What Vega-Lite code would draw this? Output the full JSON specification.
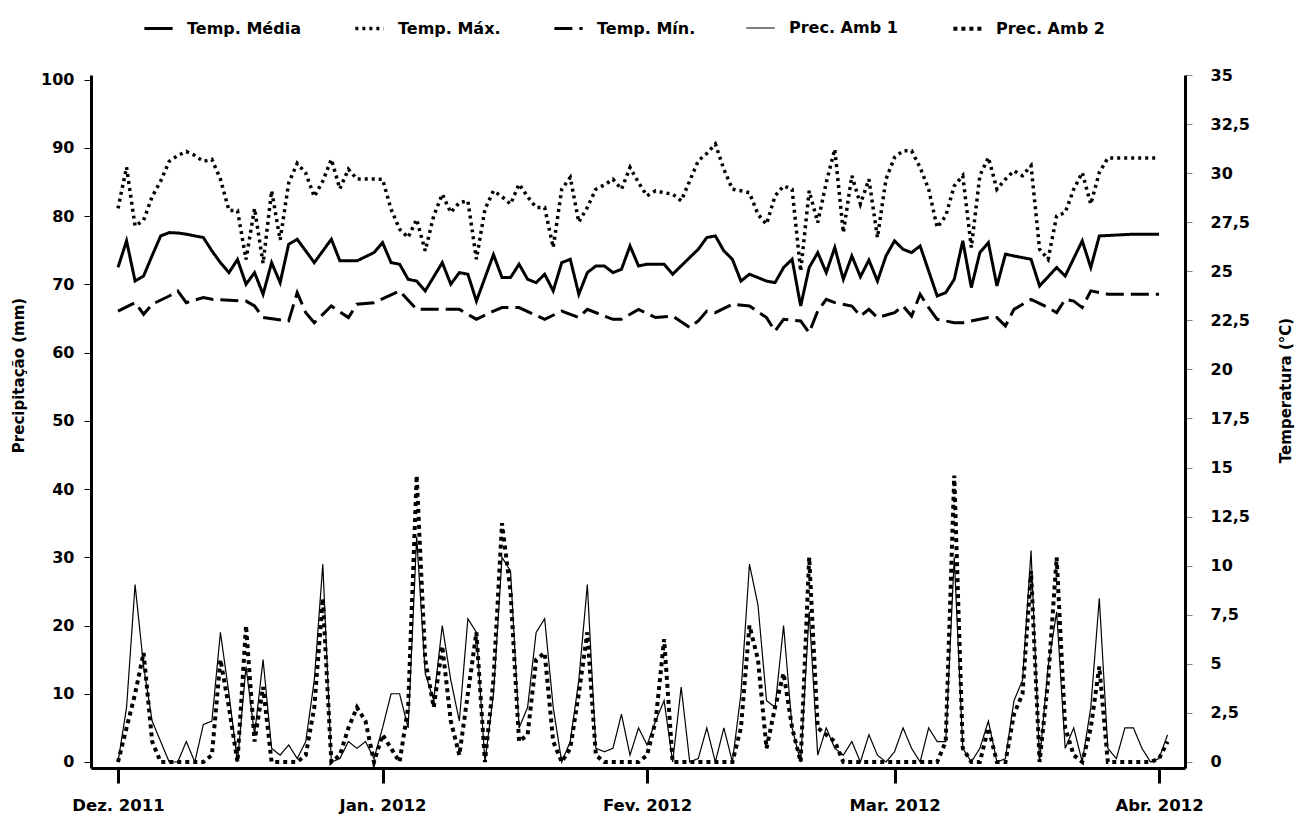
{
"$schema": "https://vega.github.io/schema/vega-lite/v6.json",
"width": 1094, "height": 693,
"autosize": "none",
"padding": {"left": 91, "top": 75, "right": 114, "bottom": 54},
"background": "white",
"config": {"view": {"stroke": null}, "font": "DejaVu Sans",
 "axis": {"labelFont": "DejaVu Sans", "labelFontWeight": "bold", "titleFont": "DejaVu Sans", "titleFontWeight": "bold", "grid": false, "domainColor": "black", "tickColor": "black", "labelColor": "black", "titleColor": "black"}},
"data": {"values": [
{"t":"2011-12-01","a1":0,"a2":0,"md":25.2,"mx":28.2,"mn":22.97},
{"t":"2011-12-02","a1":8,"a2":5,"md":26.55,"mx":30.3,"mn":null},
{"t":"2011-12-03","a1":26,"a2":10,"md":24.5,"mx":27.3,"mn":23.4},
{"t":"2011-12-04","a1":14,"a2":16,"md":24.76,"mx":27.6,"mn":22.81},
{"t":"2011-12-05","a1":6,"a2":3,"md":25.8,"mx":28.8,"mn":23.32},
{"t":"2011-12-06","a1":3,"a2":0,"md":26.8,"mx":29.6,"mn":null},
{"t":"2011-12-07","a1":0,"a2":0,"md":26.97,"mx":30.6,"mn":23.74},
{"t":"2011-12-08","a1":0,"a2":0,"md":26.95,"mx":30.9,"mn":24.0},
{"t":"2011-12-09","a1":3,"a2":0,"md":26.89,"mx":31.1,"mn":23.4},
{"t":"2011-12-10","a1":0,"a2":0,"md":26.8,"mx":30.9,"mn":null},
{"t":"2011-12-11","a1":5.5,"a2":0,"md":26.72,"mx":30.6,"mn":23.66},
{"t":"2011-12-12","a1":6,"a2":1,"md":26.04,"mx":30.7,"mn":23.57},
{"t":"2011-12-13","a1":19,"a2":15,"md":25.44,"mx":29.7,"mn":null},
{"t":"2011-12-14","a1":10,"a2":8,"md":24.93,"mx":28.1,"mn":null},
{"t":"2011-12-15","a1":0,"a2":0,"md":25.6,"mx":28.1,"mn":null},
{"t":"2011-12-16","a1":14,"a2":20,"md":24.34,"mx":25.6,"mn":23.48},
{"t":"2011-12-17","a1":4,"a2":3,"md":24.93,"mx":28.2,"mn":23.23},
{"t":"2011-12-18","a1":15,"a2":11,"md":23.83,"mx":25.4,"mn":22.64},
{"t":"2011-12-19","a1":2,"a2":0,"md":25.44,"mx":29.1,"mn":null},
{"t":"2011-12-20","a1":1,"a2":0,"md":24.42,"mx":26.6,"mn":null},
{"t":"2011-12-21","a1":2.5,"a2":0,"md":26.38,"mx":29.5,"mn":22.47},
{"t":"2011-12-22","a1":0.5,"a2":0,"md":26.63,"mx":30.5,"mn":23.91},
{"t":"2011-12-23","a1":3,"a2":1,"md":null,"mx":30.0,"mn":22.89},
{"t":"2011-12-24","a1":12,"a2":8,"md":25.44,"mx":28.8,"mn":22.38},
{"t":"2011-12-25","a1":29,"a2":24,"md":null,"mx":29.6,"mn":null},
{"t":"2011-12-26","a1":0,"a2":0,"md":26.63,"mx":30.7,"mn":23.23},
{"t":"2011-12-27","a1":0.5,"a2":1,"md":25.53,"mx":29.2,"mn":null},
{"t":"2011-12-28","a1":3,"a2":5,"md":null,"mx":30.2,"mn":22.64},
{"t":"2011-12-29","a1":2,"a2":8,"md":25.53,"mx":29.7,"mn":23.32},
{"t":"2011-12-30","a1":3,"a2":6,"md":null,"mx":29.7,"mn":null},
{"t":"2011-12-31","a1":0.5,"a2":0,"md":25.95,"mx":29.7,"mn":23.4},
{"t":"2012-01-01","a1":5,"a2":4,"md":26.46,"mx":29.69,"mn":null},
{"t":"2012-01-02","a1":10,"a2":2,"md":25.44,"mx":28.16,"mn":null},
{"t":"2012-01-03","a1":10,"a2":0,"md":25.36,"mx":27.14,"mn":24.0},
{"t":"2012-01-04","a1":5,"a2":8,"md":24.59,"mx":26.72,"mn":null},
{"t":"2012-01-05","a1":33,"a2":42,"md":24.5,"mx":27.65,"mn":23.06},
{"t":"2012-01-06","a1":13,"a2":15,"md":24.0,"mx":26.04,"mn":null},
{"t":"2012-01-07","a1":9,"a2":8,"md":null,"mx":27.82,"mn":23.06},
{"t":"2012-01-08","a1":20,"a2":17,"md":25.44,"mx":28.93,"mn":null},
{"t":"2012-01-09","a1":12,"a2":6,"md":24.34,"mx":27.99,"mn":null},
{"t":"2012-01-10","a1":6,"a2":1,"md":24.93,"mx":28.5,"mn":23.06},
{"t":"2012-01-11","a1":21,"a2":10,"md":24.85,"mx":28.59,"mn":null},
{"t":"2012-01-12","a1":19,"a2":19,"md":23.48,"mx":25.61,"mn":22.55},
{"t":"2012-01-13","a1":0,"a2":0,"md":null,"mx":28.16,"mn":null},
{"t":"2012-01-14","a1":10,"a2":12,"md":25.85,"mx":29.1,"mn":22.97},
{"t":"2012-01-15","a1":30,"a2":35,"md":24.68,"mx":28.8,"mn":23.15},
{"t":"2012-01-16","a1":28,"a2":25,"md":24.68,"mx":28.42,"mn":null},
{"t":"2012-01-17","a1":5,"a2":3,"md":25.36,"mx":29.44,"mn":23.15},
{"t":"2012-01-18","a1":8,"a2":4,"md":24.59,"mx":28.8,"mn":null},
{"t":"2012-01-19","a1":19,"a2":15,"md":24.42,"mx":28.25,"mn":null},
{"t":"2012-01-20","a1":21,"a2":16,"md":24.85,"mx":28.25,"mn":22.55},
{"t":"2012-01-21","a1":8,"a2":3,"md":24.0,"mx":26.21,"mn":null},
{"t":"2012-01-22","a1":0,"a2":0,"md":25.44,"mx":29.18,"mn":22.97},
{"t":"2012-01-23","a1":3,"a2":2,"md":25.61,"mx":29.78,"mn":null},
{"t":"2012-01-24","a1":12,"a2":10,"md":23.83,"mx":27.5,"mn":22.64},
{"t":"2012-01-25","a1":26,"a2":19,"md":24.93,"mx":28.25,"mn":23.06},
{"t":"2012-01-26","a1":2,"a2":1,"md":25.27,"mx":29.18,"mn":null},
{"t":"2012-01-27","a1":1.5,"a2":0,"md":25.27,"mx":29.4,"mn":null},
{"t":"2012-01-28","a1":2,"a2":0,"md":24.93,"mx":29.69,"mn":22.55},
{"t":"2012-01-29","a1":7,"a2":0,"md":25.1,"mx":29.18,"mn":22.55},
{"t":"2012-01-30","a1":1,"a2":0,"md":26.29,"mx":30.29,"mn":null},
{"t":"2012-01-31","a1":5,"a2":0,"md":25.27,"mx":29.52,"mn":23.06},
{"t":"2012-02-01","a1":2.5,"a2":1,"md":25.36,"mx":28.84,"mn":null},
{"t":"2012-02-02","a1":6,"a2":6,"md":null,"mx":29.1,"mn":22.64},
{"t":"2012-02-03","a1":9,"a2":18,"md":25.36,"mx":29.0,"mn":null},
{"t":"2012-02-04","a1":0,"a2":0,"md":24.85,"mx":28.93,"mn":22.72},
{"t":"2012-02-05","a1":11,"a2":0,"md":null,"mx":28.59,"mn":null},
{"t":"2012-02-06","a1":0,"a2":0,"md":25.7,"mx":29.61,"mn":22.13},
{"t":"2012-02-07","a1":0.5,"a2":0,"md":26.12,"mx":30.63,"mn":22.47},
{"t":"2012-02-08","a1":5,"a2":0,"md":26.72,"mx":31.0,"mn":22.97},
{"t":"2012-02-09","a1":0,"a2":0,"md":26.8,"mx":31.48,"mn":22.89},
{"t":"2012-02-10","a1":5,"a2":0,"md":26.04,"mx":30.2,"mn":null},
{"t":"2012-02-11","a1":0,"a2":0,"md":25.61,"mx":29.18,"mn":23.32},
{"t":"2012-02-12","a1":10,"a2":5,"md":24.5,"mx":29.1,"mn":null},
{"t":"2012-02-13","a1":29,"a2":20,"md":24.85,"mx":29.0,"mn":23.23},
{"t":"2012-02-14","a1":23,"a2":15,"md":null,"mx":27.9,"mn":null},
{"t":"2012-02-15","a1":9,"a2":2,"md":24.5,"mx":27.4,"mn":22.64},
{"t":"2012-02-16","a1":8,"a2":8,"md":24.42,"mx":28.84,"mn":21.95},
{"t":"2012-02-17","a1":20,"a2":13,"md":25.19,"mx":29.35,"mn":22.55},
{"t":"2012-02-18","a1":5,"a2":5,"md":25.61,"mx":29.18,"mn":null},
{"t":"2012-02-19","a1":0,"a2":0,"md":23.23,"mx":25.0,"mn":22.47},
{"t":"2012-02-20","a1":22,"a2":30,"md":25.19,"mx":29.1,"mn":21.87},
{"t":"2012-02-21","a1":1,"a2":5,"md":25.95,"mx":27.48,"mn":22.97},
{"t":"2012-02-22","a1":5,"a2":4,"md":24.93,"mx":29.52,"mn":23.57},
{"t":"2012-02-23","a1":2,"a2":3,"md":26.21,"mx":31.22,"mn":23.4},
{"t":"2012-02-24","a1":1,"a2":0,"md":24.59,"mx":26.97,"mn":null},
{"t":"2012-02-25","a1":3,"a2":0,"md":25.78,"mx":29.87,"mn":23.23},
{"t":"2012-02-26","a1":0,"a2":0,"md":24.72,"mx":28.42,"mn":22.72},
{"t":"2012-02-27","a1":4,"a2":0,"md":25.57,"mx":29.69,"mn":23.06},
{"t":"2012-02-28","a1":1,"a2":0,"md":24.5,"mx":26.72,"mn":22.64},
{"t":"2012-02-29","a1":0,"a2":0,"md":25.78,"mx":29.69,"mn":null},
{"t":"2012-03-01","a1":1.5,"a2":0,"md":26.55,"mx":30.8,"mn":22.89},
{"t":"2012-03-02","a1":5,"a2":0,"md":26.12,"mx":31.14,"mn":23.23},
{"t":"2012-03-03","a1":2,"a2":0,"md":25.95,"mx":31.14,"mn":22.72},
{"t":"2012-03-04","a1":0,"a2":0,"md":26.29,"mx":30.29,"mn":23.83},
{"t":"2012-03-05","a1":5,"a2":0,"md":null,"mx":29.18,"mn":23.15},
{"t":"2012-03-06","a1":3,"a2":0,"md":23.74,"mx":27.23,"mn":22.55},
{"t":"2012-03-07","a1":3,"a2":3,"md":23.91,"mx":27.82,"mn":null},
{"t":"2012-03-08","a1":30,"a2":42,"md":24.59,"mx":29.35,"mn":22.38},
{"t":"2012-03-09","a1":2,"a2":2,"md":26.55,"mx":29.87,"mn":22.38},
{"t":"2012-03-10","a1":0,"a2":0,"md":24.17,"mx":26.21,"mn":null},
{"t":"2012-03-11","a1":2,"a2":0,"md":25.95,"mx":29.87,"mn":null},
{"t":"2012-03-12","a1":6,"a2":5,"md":26.46,"mx":30.8,"mn":22.64},
{"t":"2012-03-13","a1":0,"a2":0,"md":24.25,"mx":29.18,"mn":22.64},
{"t":"2012-03-14","a1":0.5,"a2":0,"md":25.87,"mx":29.69,"mn":22.21},
{"t":"2012-03-15","a1":9,"a2":7,"md":25.78,"mx":30.12,"mn":23.06},
{"t":"2012-03-16","a1":12,"a2":10,"md":null,"mx":29.87,"mn":null},
{"t":"2012-03-17","a1":31,"a2":28,"md":25.61,"mx":30.38,"mn":23.57},
{"t":"2012-03-18","a1":0,"a2":0,"md":24.25,"mx":26.12,"mn":null},
{"t":"2012-03-19","a1":14,"a2":12,"md":null,"mx":25.61,"mn":23.15},
{"t":"2012-03-20","a1":22,"a2":30,"md":25.19,"mx":27.82,"mn":22.89},
{"t":"2012-03-21","a1":2,"a2":5,"md":24.76,"mx":27.99,"mn":23.57},
{"t":"2012-03-22","a1":5,"a2":1,"md":null,"mx":29.18,"mn":23.48},
{"t":"2012-03-23","a1":0,"a2":0,"md":26.55,"mx":30.03,"mn":23.15},
{"t":"2012-03-24","a1":8,"a2":5,"md":25.19,"mx":28.42,"mn":24.0},
{"t":"2012-03-25","a1":24,"a2":14,"md":26.8,"mx":30.03,"mn":null},
{"t":"2012-03-26","a1":2,"a2":0,"md":null,"mx":30.77,"mn":23.83},
{"t":"2012-03-27","a1":0.5,"a2":0,"md":null,"mx":30.77,"mn":null},
{"t":"2012-03-28","a1":5,"a2":0,"md":null,"mx":30.77,"mn":null},
{"t":"2012-03-29","a1":5,"a2":0,"md":26.89,"mx":30.77,"mn":null},
{"t":"2012-03-30","a1":2,"a2":0,"md":null,"mx":30.77,"mn":null},
{"t":"2012-03-31","a1":0,"a2":0,"md":null,"mx":30.77,"mn":null},
{"t":"2012-04-01","a1":0.5,"a2":0.5,"md":26.89,"mx":30.77,"mn":23.83},
{"t":"2012-04-02","a1":4,"a2":3,"md":null,"mx":null,"mn":null}
]},
"transform": [{"fold": ["md", "mx", "mn", "a1", "a2"], "as": ["k", "v"]}],
"encoding": {
 "x": {"field": "t", "type": "temporal", "title": null,
  "scale": {"type": "utc", "domain": [{"year": 2011, "month": 11, "date": 27, "hours": 20, "utc": true}, {"year": 2012, "month": 4, "date": 4, "hours": 1, "utc": true}]},
  "axis": {"values": [{"year": 2011, "month": 12, "date": 1, "utc": true}, {"year": 2012, "month": 1, "date": 1, "utc": true}, {"year": 2012, "month": 2, "date": 1, "utc": true}, {"year": 2012, "month": 3, "date": 1, "utc": true}, {"year": 2012, "month": 4, "date": 1, "utc": true}],
   "labelExpr": "['Jan.','Fev.','Mar.','Abr.','Mai.','Jun.','Jul.','Ago.','Set.','Out.','Nov.','Dez.'][utcmonth(datum.value)] + ' ' + utcyear(datum.value)",
   "domainWidth": 3, "tickWidth": 3, "tickSize": 15, "labelFontSize": 16.5, "labelPadding": 14, "labelFlush": false}
 },
 "strokeDash": {"field": "k", "type": "nominal", "title": null,
  "scale": {"domain": ["md", "mx", "mn", "a1", "a2"], "range": [[1, 0], [3, 4], [18, 7], [1, 0], [4, 4]]},
  "legend": {"orient": "none", "legendX": 51, "legendY": -63, "direction": "horizontal", "columns": 5, "symbolType": "stroke", "symbolSize": 800, "symbolStrokeColor": "black", "labelFont": "DejaVu Sans", "labelFontSize": 16, "labelFontWeight": "bold", "labelColor": "black", "labelOffset": 12, "columnPadding": 47,
   "labelExpr": "datum.label == 'md' ? 'Temp. Média' : datum.label == 'mx' ? 'Temp. Máx.' : datum.label == 'mn' ? 'Temp. Mín.' : datum.label == 'a1' ? 'Prec. Amb 1' : 'Prec. Amb 2'"}},
 "strokeWidth": {"field": "k", "type": "nominal", "title": null,
  "scale": {"type": "ordinal", "domain": ["md", "mx", "mn", "a1", "a2"], "range": [3, 3.5, 3, 1.2, 4]},
  "legend": {"orient": "none", "legendX": 51, "legendY": -63, "direction": "horizontal", "columns": 5, "symbolType": "stroke", "symbolSize": 800, "symbolStrokeColor": "black", "labelFont": "DejaVu Sans", "labelFontSize": 16, "labelFontWeight": "bold", "labelColor": "black", "labelOffset": 12, "columnPadding": 47,
   "labelExpr": "datum.label == 'md' ? 'Temp. Média' : datum.label == 'mx' ? 'Temp. Máx.' : datum.label == 'mn' ? 'Temp. Mín.' : datum.label == 'a1' ? 'Prec. Amb 1' : 'Prec. Amb 2'"}}
},
"layer": [
 {"transform": [{"filter": {"field": "k", "oneOf": ["a1", "a2"]}}],
  "mark": {"type": "line", "color": "black", "strokeCap": "butt", "strokeJoin": "miter"},
  "encoding": {"y": {"field": "v", "type": "quantitative", "title": "Precipitação (mm)",
   "scale": {"domain": [-0.88, 100.7], "nice": false, "zero": false},
   "axis": {"orient": "left", "values": [0, 10, 20, 30, 40, 50, 60, 70, 80, 90, 100], "format": "d", "domainWidth": 3, "tickSize": 7, "tickWidth": 1, "labelFontSize": 16, "labelPadding": 10, "titleFontSize": 15, "titleAngle": 270, "titleX": -73, "titleY": 300, "titleAlign": "center", "titleBaseline": "middle"}}}},
 {"transform": [{"filter": {"field": "k", "oneOf": ["md", "mx", "mn"]}}, {"filter": "isValid(datum.v)"}],
  "mark": {"type": "line", "color": "black", "strokeCap": "butt", "strokeJoin": "miter"},
  "encoding": {"y": {"field": "v", "type": "quantitative", "title": "Temperatura (°C)",
   "scale": {"domain": [-0.31, 35], "nice": false, "zero": false},
   "axis": {"orient": "right", "values": [0, 2.5, 5, 7.5, 10, 12.5, 15, 17.5, 20, 22.5, 25, 27.5, 30, 32.5, 35], "labelExpr": "replace(format(datum.value, '.1~f'), '.', ',')", "domainWidth": 3, "tickSize": 7, "tickWidth": 1, "tickColor": "#888888", "labelFontSize": 16, "labelPadding": 18, "titleFontSize": 15, "titleAngle": 270, "titleX": 100, "titleY": 315, "titleAlign": "center", "titleBaseline": "middle"}}}}
],
"resolve": {"scale": {"y": "independent"}, "axis": {"y": "independent"}}
}
